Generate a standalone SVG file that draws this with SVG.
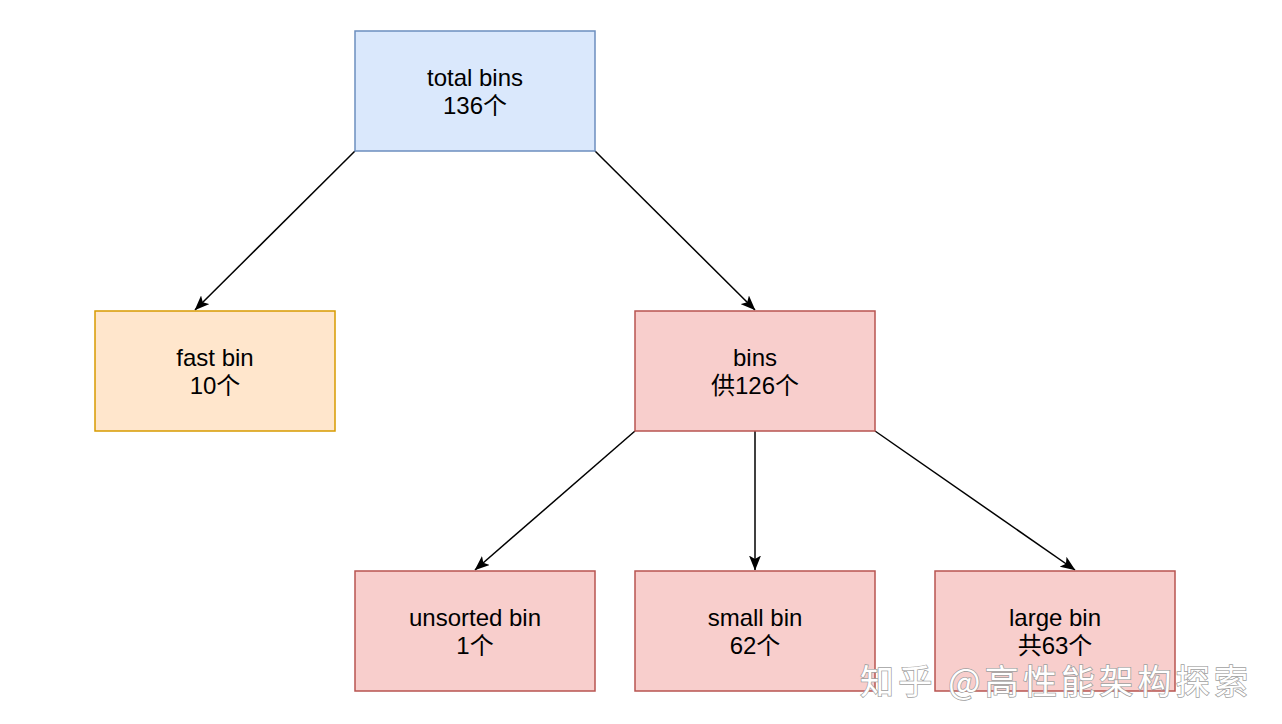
<svg xmlns="http://www.w3.org/2000/svg" width="1282" height="724" viewBox="0 0 1282 724">
<defs>
<marker id="arr" markerUnits="userSpaceOnUse" viewBox="0 0 15 12" markerWidth="15" markerHeight="12" refX="14.5" refY="6" orient="auto">
<path d="M0,0 L15,6 L0,12 L3.5,6 Z" fill="#000"/>
</marker>
</defs>
<style>
.lbl{font-family:"Liberation Sans","Noto Sans CJK SC",Arial,sans-serif;font-size:24px;fill:#000;text-anchor:middle}
.blue{fill:#dae8fc;stroke:#6c8ebf;stroke-width:1.5}
.orange{fill:#ffe6cc;stroke:#d79b00;stroke-width:1.5}
.red{fill:#f8cecc;stroke:#b85450;stroke-width:1.5}
.edge{stroke:#000;stroke-width:1.5;fill:none;marker-end:url(#arr)}
.wm{font-family:"Noto Sans CJK SC",sans-serif;font-size:34px;fill:#fff;stroke:#a0a0a0;stroke-width:1.5;paint-order:stroke}
</style>
<rect width="1282" height="724" fill="#fff"/>
<g id="connectors">
<line class="edge" x1="355" y1="151" x2="195" y2="310"/>
<line class="edge" x1="595" y1="151" x2="755" y2="310"/>
<line class="edge" x1="635" y1="431" x2="475" y2="570"/>
<line class="edge" x1="755" y1="431" x2="755" y2="570"/>
<line class="edge" x1="875" y1="431" x2="1075" y2="570"/>
</g>
<g id="total-bins">
<rect class="blue" x="355" y="31" width="240" height="120"/>
<text class="lbl" x="475" y="86">total bins</text>
<text class="lbl" x="475" y="114">136个</text>
</g>
<g id="fast-bin">
<rect class="orange" x="95" y="311" width="240" height="120"/>
<text class="lbl" x="215" y="366">fast bin</text>
<text class="lbl" x="215" y="394">10个</text>
</g>
<g id="bins">
<rect class="red" x="635" y="311" width="240" height="120"/>
<text class="lbl" x="755" y="366">bins</text>
<text class="lbl" x="755" y="394">供126个</text>
</g>
<g id="unsorted-bin">
<rect class="red" x="355" y="571" width="240" height="120"/>
<text class="lbl" x="475" y="626">unsorted bin</text>
<text class="lbl" x="475" y="654">1个</text>
</g>
<g id="small-bin">
<rect class="red" x="635" y="571" width="240" height="120"/>
<text class="lbl" x="755" y="626">small bin</text>
<text class="lbl" x="755" y="654">62个</text>
</g>
<g id="large-bin">
<rect class="red" x="935" y="571" width="240" height="120"/>
<text class="lbl" x="1055" y="626">large bin</text>
<text class="lbl" x="1055" y="654">共63个</text>
</g>
<g id="watermark">
<text class="wm" x="860" y="694" textLength="388" lengthAdjust="spacing">知乎 @高性能架构探索</text>
</g>
</svg>
